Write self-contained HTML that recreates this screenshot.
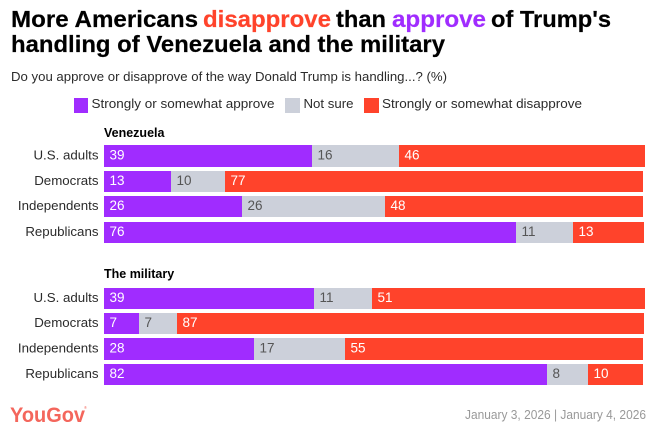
<!DOCTYPE html>
<html lang="en">
<head>
<meta charset="utf-8">
<title>More Americans disapprove than approve</title>
<style>
html,body{margin:0;padding:0;background:#fff;width:658px;height:434px;overflow:hidden}
svg{display:block;font-family:"Liberation Sans",Arial,sans-serif}
.t{font-size:23px;font-weight:700;stroke-width:.2px}
.lg{font-size:13px;fill:#2b2b2b}
</style>
</head>
<body>
<svg id="chart" width="658" height="434" viewBox="0 0 658 434" xmlns="http://www.w3.org/2000/svg">
  <rect width="658" height="434" fill="#fff"/>
  <g>
    <text class="t" x="11" y="27" fill="#000" stroke="#000" textLength="187" lengthAdjust="spacingAndGlyphs">More Americans</text>
    <text class="t" x="203" y="27" fill="#ff432b" stroke="#ff432b" textLength="128" lengthAdjust="spacingAndGlyphs">disapprove</text>
    <text class="t" x="336" y="27" fill="#000" stroke="#000" textLength="50" lengthAdjust="spacingAndGlyphs">than</text>
    <text class="t" x="392" y="27" fill="#a02cff" stroke="#a02cff" textLength="94" lengthAdjust="spacingAndGlyphs">approve</text>
    <text class="t" x="491" y="27" fill="#000" stroke="#000" textLength="120" lengthAdjust="spacingAndGlyphs">of Trump's</text>
    <text class="t" x="11" y="52" fill="#000" stroke="#000" textLength="434" lengthAdjust="spacingAndGlyphs">handling of Venezuela and the military</text>
  </g>
  <text x="11" y="81" font-size="13" fill="#2b2b2b" textLength="436" lengthAdjust="spacingAndGlyphs">Do you approve or disapprove of the way Donald Trump is handling...? (%)</text>
  <g>
    <rect x="74" y="98" width="14" height="15" fill="#a02cff"/>
    <text class="lg" x="91.5" y="108" textLength="183" lengthAdjust="spacingAndGlyphs">Strongly or somewhat approve</text>
    <rect x="285" y="98" width="15" height="15" fill="#ccd0da"/>
    <text class="lg" x="303.5" y="108" textLength="50" lengthAdjust="spacingAndGlyphs">Not sure</text>
    <rect x="364" y="98" width="15" height="15" fill="#ff432b"/>
    <text class="lg" x="382" y="108" textLength="200" lengthAdjust="spacingAndGlyphs">Strongly or somewhat disapprove</text>
  </g>
  <g id="plot"></g>
  <text x="10" y="422" font-size="21.5" font-weight="700" fill="#f4665c" textLength="75" lengthAdjust="spacingAndGlyphs">YouGov</text>
  <text x="84" y="409" font-size="4" fill="#f4665c">®</text>
  <text x="465" y="419" font-size="12.5" fill="#999" textLength="181" lengthAdjust="spacingAndGlyphs">January 3, 2026 | January 4, 2026</text>
</svg>
<script>
const groups = ["U.S. adults", "Democrats", "Independents", "Republicans"];
const facetTitles = ["Venezuela", "The military"];
const approveVenezuela = [38.6, 12.5, 25.6, 76.4];
const notSureVenezuela = [16.1, 10.0, 26.49, 10.6];
const disapproveVenezuela = [45.6, 77.49, 47.9, 13.2];
const approveMilitary = [39.0, 6.5, 27.9, 82.2];
const notSureMilitary = [10.8, 7.1, 16.9, 7.6];
const disapproveMilitary = [50.6, 86.6, 55.2, 10.2];

const svgNS = "http://www.w3.org/2000/svg";
const plot = document.getElementById("plot");
const x0 = 104;
const unit = 5.39;
function xScale(v) { return x0 + v * unit; }
function yScale(top, i) { return top + i * 25.4; }

function addText(x, y, str, size, fill, anchor, weight) {
  const t = document.createElementNS(svgNS, "text");
  t.setAttribute("x", x);
  t.setAttribute("y", y);
  t.setAttribute("font-size", size);
  t.setAttribute("fill", fill);
  if (anchor) t.setAttribute("text-anchor", anchor);
  if (weight) t.setAttribute("font-weight", weight);
  t.textContent = str;
  plot.appendChild(t);
  return t;
}

function drawFacet(title, titleY, top, approve, notSure, disapprove) {
  const ft = addText(x0, titleY, title, 12.5, "#000", null, "700");
  
  
  groups.forEach(function (g, i) {
    const yTop = Math.round(yScale(top, i));
    const yBot = Math.round(yScale(top, i) + 21.2);
    const mid = (yTop + yBot) / 2;
    const lab = addText(98.5, mid + 3.7, g, 13.3, "#2b2b2b", "end");
    
    
    const segs = [
      { v: approve[i], fill: "#a02cff", text: "#fff" },
      { v: notSure[i], fill: "#ccd0da", text: "#555" },
      { v: disapprove[i], fill: "#ff432b", text: "#fff" }
    ];
    let cum = 0;
    segs.forEach(function (s) {
      const a = Math.round(xScale(cum));
      const b = Math.round(xScale(cum + s.v));
      const r = document.createElementNS(svgNS, "rect");
      
      
      r.setAttribute("x", a);
      r.setAttribute("y", yTop);
      r.setAttribute("width", b - a);
      r.setAttribute("height", yBot - yTop);
      r.setAttribute("fill", s.fill);
      plot.appendChild(r);
      const vl = addText(a + 5.5, mid + 3.7, String(Math.round(s.v)), 13.5, s.text);
      
      
      cum += s.v;
    });
  });
}

drawFacet(facetTitles[0], 137, 145.4, approveVenezuela, notSureVenezuela, disapproveVenezuela);
drawFacet(facetTitles[1], 278, 287.6, approveMilitary, notSureMilitary, disapproveMilitary);
</script>
</body>
</html>
